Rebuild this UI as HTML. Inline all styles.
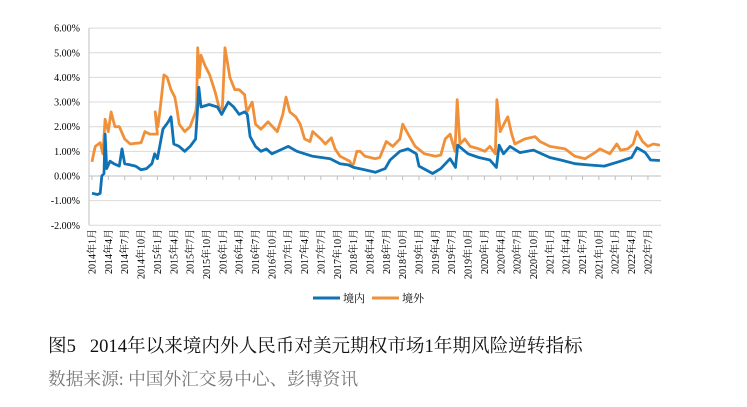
<!DOCTYPE html>
<html><head><meta charset="utf-8">
<style>
html,body{margin:0;padding:0;background:#fff;}
body{width:747px;height:407px;position:relative;overflow:hidden;}
#chart{position:absolute;left:0;top:0;}
.cap{position:absolute;left:48px;top:332px;font-family:"Liberation Serif","Noto Serif CJK SC",serif;font-size:18.6px;color:#111;white-space:nowrap;}
.src{position:absolute;left:48px;top:366px;font-family:"Liberation Serif","Noto Serif CJK SC",serif;font-size:17.7px;color:#777;white-space:nowrap;}
</style></head>
<body>
<svg id="chart" width="747" height="320" xmlns="http://www.w3.org/2000/svg"></svg>
<div class="cap">图5&nbsp;&nbsp;&nbsp;2014年以来境内外人民币对美元期权市场1年期风险逆转指标</div>
<div class="src">数据来源: 中国外汇交易中心、彭博资讯</div>
<script>
const yTicks=[6,5,4,3,2,1,0,-1,-2];
const yTickLabels=["6.00%","5.00%","4.00%","3.00%","2.00%","1.00%","0.00%","-1.00%","-2.00%"];
const xLabels=[];
for(let y=2014;y<=2022;y++){for(const m of [1,4,7,10]){if(y===2022&&m>7)break;xLabels.push(y+"年"+m+"月");}}
const onMonths=[0,1,1.5,1.8,2.2,2.4,2.7,3.3,4,5,5.5,6,8,9,10,11,11.5,12,13,14,14.5,15,16,17,18,19,19.3,19.6,20,21.5,23,23.8,25,26,27,28,28.5,29,30,31,32,33,35,36,37.6,40.5,43.7,45.5,47,48,50,52,53.8,54.7,56.5,58,59.5,60,62.5,64,65.7,66.7,67.1,69,71,73,74.2,74.7,75.5,76.7,78.5,81,84,86,88.6,91,94,97,99,100,101.5,102.5,104.2];
const onValues=[-0.7,-0.75,-0.7,0.0,0.1,1.7,0.3,0.6,0.5,0.4,1.1,0.5,0.4,0.25,0.3,0.5,0.9,0.7,1.9,2.2,2.4,1.3,1.2,1.0,1.2,1.5,2.5,3.6,2.8,2.9,2.8,2.5,3.0,2.8,2.5,2.6,2.5,1.6,1.2,1.0,1.1,0.9,1.1,1.2,1.0,0.8,0.7,0.5,0.45,0.35,0.25,0.15,0.3,0.65,1.0,1.1,0.9,0.4,0.1,0.3,0.7,0.35,1.25,0.9,0.75,0.65,0.35,1.25,0.9,1.2,0.95,1.05,0.75,0.65,0.5,0.45,0.4,0.6,0.75,1.15,0.95,0.65,0.63];
const offMonths=[0,0.3,0.6,1.5,2,2.4,3,3.5,4.2,5,6,7,9,9.7,10.6,12,11.6,12.1,12.5,13.2,13.8,14.5,15.2,15.6,16,17,18,19,19.2,19.4,19.7,20,20.7,21.6,22.6,23.3,23.9,24.4,25.3,26.2,27,28,28.4,29.4,30,31,32.3,34,35,35.6,36.3,37.4,38.2,39,40,40.5,42,42.8,43.9,44.6,45.5,46.4,47.3,47.7,48,48.6,49.2,50.1,52,52.8,54,55.2,56.5,57,58,59.3,61,63,64,64.8,65.7,66.6,67,67.5,68.4,69.4,71,72.1,73,74,74.3,74.9,75.8,76.3,77,77.6,79.4,81.3,82.2,84,86.8,88.6,90.5,92.3,93.2,95,96.3,97,98.3,99.3,100,101,102,103,104.2];
const offValues=[0.57,0.9,1.2,1.35,0.9,2.3,1.8,2.6,2.0,2.0,1.5,1.3,1.35,1.8,1.7,1.7,2.6,2.0,2.7,4.1,4.0,3.5,3.2,2.7,2.1,1.8,2.0,2.6,2.9,5.2,4.0,4.9,4.5,4.1,3.4,2.8,2.7,5.2,4.0,3.5,3.5,3.3,2.6,3.0,2.1,1.9,2.2,1.8,2.5,3.2,2.6,2.4,2.1,1.5,1.4,1.8,1.5,1.3,1.55,1.1,0.8,0.7,0.6,0.4,0.5,1.0,1.0,0.8,0.7,0.75,1.4,1.2,1.5,2.1,1.7,1.2,0.9,0.8,0.85,1.5,1.7,1.0,3.1,1.3,1.5,1.2,1.1,1.0,1.2,0.9,3.1,1.8,2.2,2.4,1.7,1.3,1.5,1.6,1.4,1.2,1.1,0.8,0.7,0.95,1.1,0.9,1.3,1.05,1.1,1.3,1.8,1.4,1.2,1.3,1.25];

const NS="http://www.w3.org/2000/svg";
const svg=document.getElementById('chart');
const L=89,R=661,T=28,B=225;
const yS=v=>176-v*24.65;
const xS=m=>92+m*5.45;
function el(t,a){const e=document.createElementNS(NS,t);for(const k in a)e.setAttribute(k,a[k]);svg.appendChild(e);return e;}
yTicks.forEach((v,i)=>{
  const g=el('line',{x1:L,x2:R,y1:yS(v),y2:yS(v),stroke:v===0?'#bfbfbf':'#d9d9d9','stroke-width':1});
  
  
  const t=el('text',{x:80,y:yS(v)+3.5,'text-anchor':'end','font-family':'Liberation Serif, serif','font-size':'10'});
  t.textContent=yTickLabels[i];
  
  
});
const ax=el('line',{x1:L,x2:L,y1:T,y2:B,stroke:'#bfbfbf','stroke-width':1});


xLabels.forEach((s,i)=>{
  const x=xS(i*3);
  const tk=el('line',{x1:x,x2:x,y1:176,y2:180,stroke:'#bfbfbf','stroke-width':1});
  
  
  const t=el('text',{x:0,y:0,'text-anchor':'end',transform:`translate(${x+3.5},229) rotate(-90)`,'font-family':'Liberation Serif, Noto Serif CJK SC, serif','font-size':'10'});
  t.textContent=s;
  
  
});
function line(ms,vs,c,name){
  const d=ms.map((m,i)=>(i?'L':'M')+xS(m).toFixed(1)+' '+yS(vs[i]).toFixed(1)).join('');
  const p=el('path',{d:d,fill:'none',stroke:c,'stroke-width':2.8,'stroke-linejoin':'round'});
  
  
}
line(offMonths,offValues,'#f0913a','offshore-line');
line(onMonths,onValues,'#0e72b5','onshore-line');
const leg=[['境内','#0e72b5',313],['境外','#f0913a',372]];
leg.forEach(([n,c,x])=>{
  const l=el('line',{x1:x,x2:x+27,y1:298,y2:298,stroke:c,'stroke-width':3});
  
  
  const t=el('text',{x:x+30,y:302,'font-family':'Liberation Serif, Noto Serif CJK SC, serif','font-size':'11'});
  t.textContent=n;
  
  
});
</script>
</body></html>
